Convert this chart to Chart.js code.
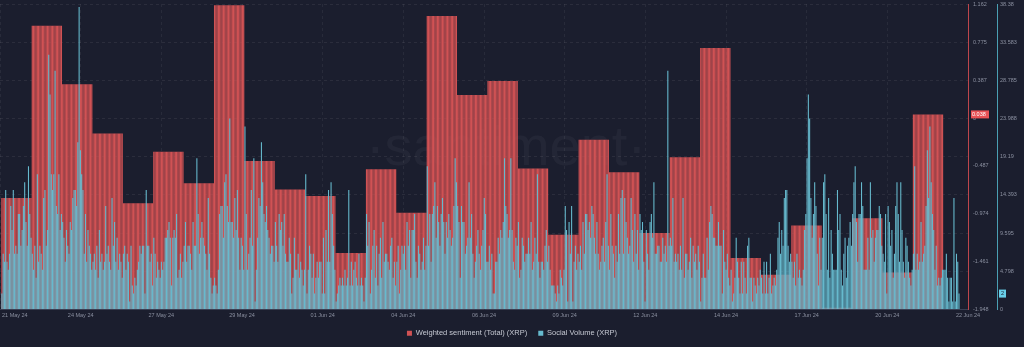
<!DOCTYPE html>
<html>
<head>
<meta charset="utf-8">
<script src="https://cdn.jsdelivr.net/npm/chart.js@4.4.0/dist/chart.umd.min.js"></script>
<style>
html,body{margin:0;padding:0;background:#1b1e2e;}
canvas{display:block;}
</style>
</head>
<body>
<canvas id="c" width="1024" height="347"></canvas>
<script>
// ---------------- DATA ----------------
const sentimentDaily = [-0.813, 0.941, 0.344, -0.156, -0.867, -0.343, -0.663, 1.150, -0.435, -0.727,
  -0.793, -1.374, -0.520, -0.962, 1.040, 0.235, 0.377, -0.513, -1.186, -0.221,
  -0.551, -1.170, -0.398, 0.714, -1.425, -1.595, -1.093, -1.929, -1.020, -1.571, 0.038];

const socialVolumeHourly = [
  2,7,6,15,6,5,7,13,10,15,7,8,7,12,12,8,10,13,16,11,8,18,12,9,
  7,5,8,4,17,6,8,7,5,14,15,8,10,32,27,17,15,17,30,13,12,17,10,12,
  11,9,6,10,8,7,11,10,14,15,15,13,21,38,20,17,15,7,12,6,10,8,7,5,
  6,7,5,8,4,10,6,7,5,6,13,7,8,6,5,14,8,11,6,9,5,7,6,4,
  7,8,5,7,6,1,8,3,2,4,3,5,6,8,7,8,8,2,15,8,8,6,7,3,
  9,7,4,6,5,4,6,5,6,9,9,10,11,9,3,9,10,9,12,4,5,7,4,6,
  8,11,6,8,8,7,5,11,8,8,19,12,7,9,11,9,8,7,5,14,7,4,2,3,
  4,3,2,5,12,13,13,9,16,17,13,11,24,11,11,9,14,10,15,9,5,9,8,5,
  23,12,5,7,9,15,8,19,1,5,9,14,13,21,16,12,11,13,10,9,7,8,8,6,
  11,8,6,12,10,11,8,12,7,6,6,9,7,2,4,9,5,5,7,4,6,5,3,5,
  17,2,5,8,7,4,7,2,4,6,4,6,6,2,9,2,10,6,15,6,16,12,8,5,
  1,2,3,4,3,4,3,5,3,4,15,3,6,3,5,6,4,3,7,3,4,3,1,4,
  12,8,11,2,5,8,10,4,8,3,7,9,4,11,6,7,7,6,5,8,9,4,6,3,
  6,8,2,5,8,7,8,5,11,8,10,4,10,10,12,6,4,8,7,5,6,9,5,8,
  18,8,12,6,12,13,16,9,13,11,8,12,14,11,7,11,9,12,10,8,9,13,19,16,
  13,11,4,13,11,11,7,8,9,16,9,12,7,4,6,8,10,7,5,8,10,14,12,6,
  6,8,5,7,2,2,6,6,9,7,10,9,11,19,13,12,9,10,19,10,6,5,9,8,
  11,4,5,9,8,6,7,7,9,7,11,5,6,9,7,17,6,4,6,6,5,8,10,6,
  8,5,3,3,3,2,1,3,2,5,4,3,5,13,10,1,11,7,13,1,6,8,5,7,
  6,8,5,11,7,12,12,10,11,9,13,12,9,7,11,7,5,6,8,9,6,11,17,8,
  5,12,8,7,4,8,6,12,7,14,15,7,14,11,9,7,8,14,10,6,12,7,10,5,
  12,10,11,6,1,10,7,5,11,12,9,16,7,7,8,8,6,6,9,7,8,6,30,8,
  9,8,14,6,7,6,7,5,8,5,14,4,7,7,5,6,9,4,8,6,7,5,8,6,
  1,4,7,4,4,9,5,11,13,12,9,9,8,8,11,8,8,2,10,6,5,7,4,3,
  5,1,2,4,9,6,4,2,6,2,6,4,2,8,9,4,4,1,4,3,2,4,3,5,
  4,2,6,2,6,2,4,7,2,3,4,3,5,9,11,7,10,8,14,15,15,8,6,7,
  6,4,6,3,7,4,5,4,3,5,10,12,19,27,24,14,9,12,16,13,7,3,9,5,
  9,16,17,12,5,14,4,10,7,5,5,5,15,10,12,5,3,7,9,4,8,9,11,8,
  12,16,18,11,6,12,12,16,13,5,5,5,9,5,16,9,10,6,9,10,10,13,12,8,
  7,6,12,2,13,11,8,10,4,7,13,16,12,6,16,10,6,4,9,8,6,4,3,5,
  7,18,5,7,5,6,11,6,7,8,13,20,14,23,16,12,10,5,8,3,4,3,4,5,
  5,5,7,4,1,4,4,1,14,1,7,6,2
];

const xTickLabels = ['21 May 24','24 May 24','27 May 24','29 May 24','01 Jun 24','04 Jun 24',
  '06 Jun 24','09 Jun 24','12 Jun 24','14 Jun 24','17 Jun 24','20 Jun 24','22 Jun 24'];
const sentimentTicks = [1.162, 0.775, 0.387, 0, -0.487, -0.974, -1.461, -1.948];
const volumeTicks = [38.38, 33.583, 28.785, 23.988, 19.19, 14.393, 9.595, 4.798, 0];

// time axis span in hours (first bar starts one hour after the axis start)
const HOURS_SPAN = 764.6;
const HOURS_PER_DAY = 24;

// ---------------- BUILD ----------------
const FONT = "'Liberation Sans', Arial, sans-serif";
const RED = 'rgb(208,82,84)';
const TEAL = 'rgb(102,186,206)';
const sentMin = Math.min(...sentimentTicks), sentMax = Math.max(...sentimentTicks);
const volMin = Math.min(...volumeTicks), volMax = Math.max(...volumeTicks);

const sentimentPoints = socialVolumeHourly.map((_, i) => ({
  x: i + 1.5,
  y: i < sentimentDaily.length * HOURS_PER_DAY ? sentimentDaily[Math.floor(i / HOURS_PER_DAY)] : null
}));
const volumePoints = socialVolumeHourly.map((v, i) => ({ x: i + 1.5, y: v }));

const bgPlugin = {
  id: 'bg',
  beforeDraw(chart) {
    const c = chart.ctx;
    c.save(); c.fillStyle = '#1b1e2e'; c.fillRect(0, 0, chart.width, chart.height); c.restore();
  }
};

const watermark = {
  id: 'watermark',
  beforeDatasetsDraw(chart) {
    const c = chart.ctx;
    c.save();
    c.font = "56px " + FONT;
    c.fillStyle = 'rgba(255,255,255,0.04)';
    c.textAlign = 'center';
    c.textBaseline = 'alphabetic';
    c.fillText('·santiment·', 506, 165);
    c.restore();
  }
};

const overlay = {
  id: 'overlay',
  afterDraw(chart) {
    const c = chart.ctx, xs = chart.scales.x, a = chart.chartArea;
    c.save();
    c.font = "5.5px " + FONT;
    c.fillStyle = '#8b90a0';
    c.textBaseline = 'middle';
    xs.ticks.forEach((t, k) => {
      const px = xs.getPixelForValue(t.value);
      if (k === 0) { c.textAlign = 'left'; c.fillText(xTickLabels[k], px + 2, a.bottom + 6); }
      else { c.textAlign = 'center'; c.fillText(xTickLabels[k], px, a.bottom + 6); }
    });
    // last value badges
    const ys = chart.scales.ySent, yv = chart.scales.yVol;
    const lastSent = sentimentDaily[sentimentDaily.length - 1];
    const lastVol = socialVolumeHourly[socialVolumeHourly.length - 1];
    let py = ys.getPixelForValue(lastSent);
    c.fillStyle = 'rgb(232,82,86)';
    c.fillRect(ys.left + 3, py - 4, 18, 8);
    c.fillStyle = '#ffffff';
    c.textAlign = 'left';
    c.fillText(String(lastSent), ys.left + 4, py + 0.3);
    py = yv.getPixelForValue(lastVol);
    c.fillStyle = 'rgb(104,206,232)';
    c.fillRect(yv.left + 2, py - 4, 7, 8);
    c.fillStyle = '#1b1e2e';
    c.textAlign = 'center';
    c.fillText(String(lastVol), yv.left + 5.5, py + 0.3);
    c.restore();
  }
};

new Chart(document.getElementById('c'), {
  type: 'bar',
  data: {
    datasets: [
      {
        label: 'Weighted sentiment (Total) (XRP)',
        data: sentimentPoints,
        yAxisID: 'ySent',
        backgroundColor: RED,
        borderWidth: 0,
        base: sentMin,
        grouped: false,
        barPercentage: 0.97,
        categoryPercentage: 1,
        order: 1
      },
      {
        label: 'Social Volume (XRP)',
        data: volumePoints,
        yAxisID: 'yVol',
        backgroundColor: TEAL,
        borderWidth: 0,
        grouped: false,
        barPercentage: 0.85,
        categoryPercentage: 1,
        order: 0
      }
    ]
  },
  options: {
    responsive: false,
    animation: false,
    devicePixelRatio: 1,
    layout: { padding: { top: 4, left: 0, right: 0, bottom: 0 } },
    plugins: {
      tooltip: { enabled: false },
      legend: {
        position: 'bottom',
        labels: {
          boxWidth: 5, boxHeight: 5, padding: 11,
          color: '#c5c8d2',
          font: { size: 7.5, family: FONT },
          sort: (a, b) => a.datasetIndex - b.datasetIndex
        }
      }
    },
    scales: {
      x: {
        type: 'linear',
        offset: false,
        min: 0, max: HOURS_SPAN,
        afterBuildTicks(s) { s.ticks = xTickLabels.map((_, k) => ({ value: k * HOURS_SPAN / (xTickLabels.length - 1) })); },
        afterFit(s) { s.height = 9; },
        ticks: { display: false },
        grid: { color: 'rgba(255,255,255,0.06)', drawTicks: false, offset: false },
        border: { color: '#3a4054', dash: [3, 3] }
      },
      ySent: {
        position: 'right',
        weight: 0,
        min: sentMin, max: sentMax,
        afterBuildTicks(s) { s.ticks = sentimentTicks.map(v => ({ value: v })); },
        afterFit(s) { s.width = 29; },
        ticks: { color: '#8b90a0', font: { size: 5.5, family: FONT }, padding: 0, callback: v => String(v) },
        grid: { display: true, drawOnChartArea: false, drawTicks: true, tickLength: 5, tickColor: 'rgba(0,0,0,0)' },
        border: { color: 'rgb(190,70,76)', width: 1 }
      },
      yVol: {
        position: 'right',
        weight: 1,
        min: volMin, max: volMax,
        afterBuildTicks(s) { s.ticks = volumeTicks.map(v => ({ value: v })); },
        afterFit(s) { s.width = 27; },
        ticks: { color: '#8b90a0', font: { size: 5.5, family: FONT }, padding: 0, callback: v => String(v) },
        grid: { color: 'rgba(255,255,255,0.07)', drawTicks: true, tickLength: 3, tickColor: 'rgba(0,0,0,0)' },
        border: { color: 'rgb(74,160,180)', width: 1, dash: [3, 3] }
      }
    }
  },
  plugins: [bgPlugin, watermark, overlay]
});
</script>
</body>
</html>
